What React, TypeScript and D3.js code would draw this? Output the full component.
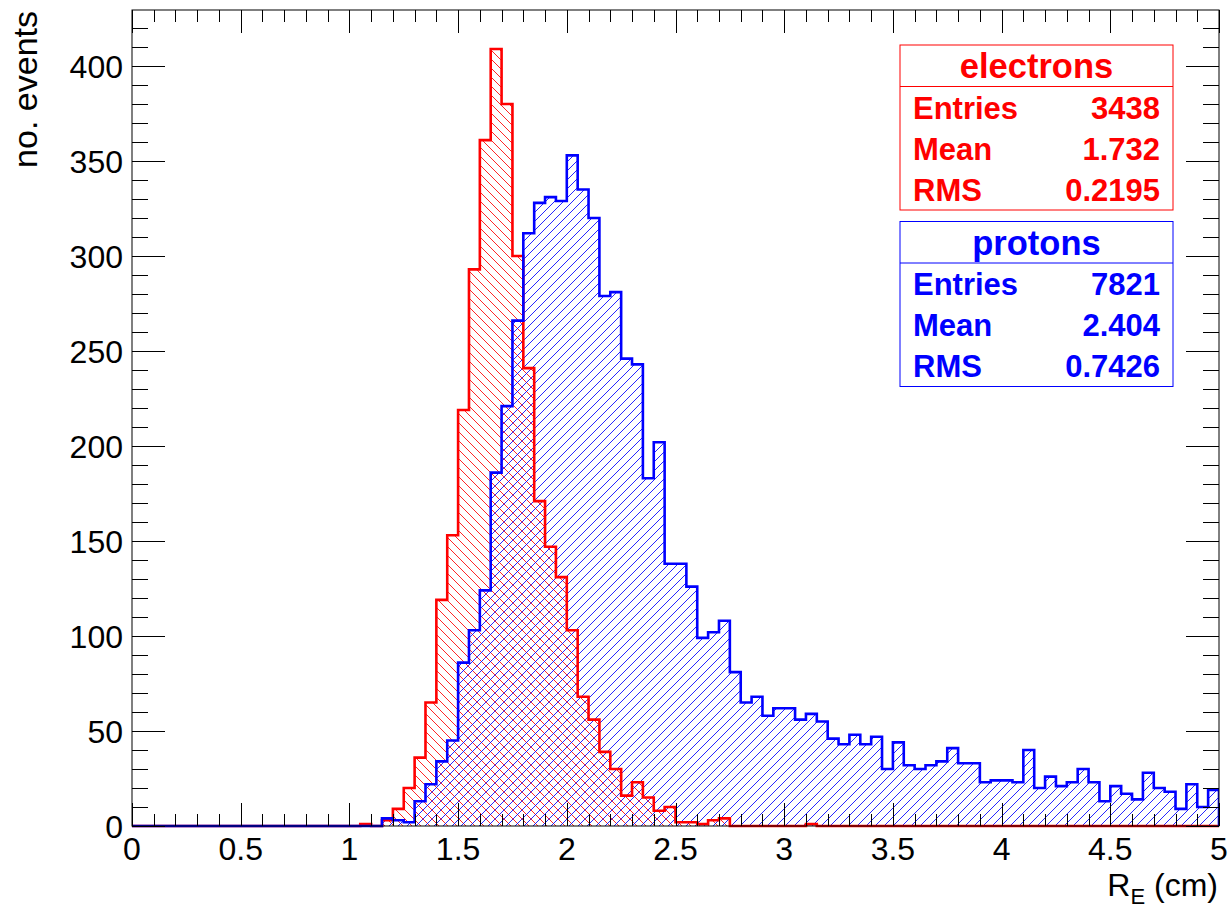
import React from "react";
import * as d3 from "d3";

const BIN_WIDTH = 0.05;
const X_DOMAIN: [number, number] = [0, 5];
const Y_DOMAIN: [number, number] = [0, 429.5];

// electrons histogram, 100 bins of 0.05 cm
const electrons = [
  0, 0, 0, 0, 0, 0, 0, 0, 0, 0,
  0, 0, 0, 0, 0, 0, 0, 0, 0, 0,
  0, 1, 0, 3, 9, 20, 36, 65, 119, 153,
  219, 293, 361, 409, 380, 300, 241, 171, 147, 131,
  103, 68, 56, 39, 30, 16, 23, 15, 8, 10,
  2, 2, 1, 3, 4, 0, 0, 0, 0, 0,
  0, 0, 1, 0, 0, 0, 0, 0, 0, 0,
  0, 0, 0, 0, 0, 0, 0, 0, 0, 0,
  0, 0, 0, 0, 0, 0, 0, 0, 0, 0,
  0, 0, 0, 0, 0, 0, 0, 0, 0, 0,
];

// protons histogram, 100 bins of 0.05 cm
const protons = [
  0, 0, 0, 0, 0, 0, 0, 0, 0, 0,
  0, 0, 0, 0, 0, 0, 0, 0, 0, 0,
  0, 0, 0, 4, 3, 2, 13, 22, 34, 45,
  86, 103, 124, 186, 221, 266, 312, 328, 331, 329,
  353, 335, 320, 279, 281, 246, 243, 183, 202, 138,
  138, 126, 99, 102, 108, 81, 65, 68, 58, 62,
  62, 56, 59, 55, 46, 43, 48, 43, 47, 30,
  44, 32, 30, 32, 34, 41, 33, 33, 23, 24,
  24, 23, 40, 20, 26, 21, 23, 30, 23, 13,
  21, 17, 14, 28, 20, 18, 9, 22, 10, 19,
];

const xMajorTicks = [0, 0.5, 1, 1.5, 2, 2.5, 3, 3.5, 4, 4.5, 5];
const xTickLabels = ["0", "0.5", "1", "1.5", "2", "2.5", "3", "3.5", "4", "4.5", "5"];
const yMajorTicks = [0, 50, 100, 150, 200, 250, 300, 350, 400];
const yTickLabels = ["0", "50", "100", "150", "200", "250", "300", "350", "400"];

const electronStats = [
  ["Entries", "3438"],
  ["Mean", "1.732"],
  ["RMS", "0.2195"],
];
const protonStats = [
  ["Entries", "7821"],
  ["Mean", "2.404"],
  ["RMS", "0.7426"],
];

const RED = "#ff0000";
const BLUE = "#0000ff";
const FONT = "'Liberation Sans', Arial, Helvetica, sans-serif";

const W = 1229;
const H = 910;
const PLOT = { left: 132, right: 1219, top: 10, bottom: 826 };
const HATCH = 9;

export default function App() {
  const x = d3.scaleLinear().domain(X_DOMAIN).range([PLOT.left, PLOT.right]);
  const y = d3.scaleLinear().domain(Y_DOMAIN).range([PLOT.bottom, PLOT.top]);

  const stepPoints = (vals: number[]): [number, number][] => {
    const pts: [number, number][] = [[X_DOMAIN[0], 0]];
    vals.forEach((v, i) => {
      pts.push([i * BIN_WIDTH, v]);
      pts.push([(i + 1) * BIN_WIDTH, v]);
    });
    pts.push([X_DOMAIN[1], 0]);
    return pts;
  };
  const line = d3
    .line<[number, number]>()
    .x((d) => x(d[0]))
    .y((d) => y(d[1]));

  const redPath = line(stepPoints(electrons)) || "";
  const bluePath = line(stepPoints(protons)) || "";

  const xMinor = d3.range(0, 51).map((i) => i * 0.1).filter((v) => v <= 5.0001);
  const yMinor = d3.range(0, 43).map((i) => i * 10).filter((v) => v <= Y_DOMAIN[1]);

  const statBox = (title: string, rows: string[][], color: string, top: number) => {
    const left = 900;
    const width = 273;
    const height = 165;
    return (
      <g>
        <rect x={left} y={top} width={width} height={height} fill="white" stroke={color} strokeWidth={1} />
        <line x1={left} x2={left + width} y1={top + 41.5} y2={top + 41.5} stroke={color} strokeWidth={1} />
        <text
          x={left + width / 2}
          y={top + 33}
          textAnchor="middle"
          fontFamily={FONT}
          fontWeight="bold"
          fontSize={34.5}
          fill={color}
        >
          {title}
        </text>
        {rows.map((r, i) => (
          <g key={r[0]}>
            <text x={left + 13} y={top + 73.5 + i * 41} fontFamily={FONT} fontWeight="bold" fontSize={31} fill={color}>
              {r[0]}
            </text>
            <text
              x={left + 260}
              y={top + 73.5 + i * 41}
              textAnchor="end"
              fontFamily={FONT}
              fontWeight="bold"
              fontSize={31}
              fill={color}
            >
              {r[1]}
            </text>
          </g>
        ))}
      </g>
    );
  };

  const h = HATCH;
  return (
    <svg
      width={W}
      height={H}
      style={{ position: "absolute", left: 0, top: 0, background: "white" }}
      xmlns="http://www.w3.org/2000/svg"
    >
      <defs>
        <pattern id="hatchRed" patternUnits="userSpaceOnUse" width={h} height={h}>
          <path
            d={`M0,0 L${h},${h} M-1,${h - 1} L1,${h + 1} M${h - 1},-1 L${h + 1},1`}
            stroke={RED}
            strokeWidth={1}
            strokeOpacity={0.85}
          />
        </pattern>
        <pattern id="hatchBlue" patternUnits="userSpaceOnUse" width={h} height={h}>
          <path
            d={`M0,${h} L${h},0 M-1,1 L1,-1 M${h - 1},${h + 1} L${h + 1},${h - 1}`}
            stroke={BLUE}
            strokeWidth={1}
            strokeOpacity={0.85}
          />
        </pattern>
        <clipPath id="plotClip">
          <rect x={PLOT.left} y={PLOT.top} width={PLOT.right - PLOT.left} height={PLOT.bottom - PLOT.top + 2} />
        </clipPath>
      </defs>
      <rect x={0} y={0} width={W} height={H} fill="white" />

      <g clipPath="url(#plotClip)">
        <path d={redPath + "Z"} fill="url(#hatchRed)" stroke="none" />
        <path d={bluePath + "Z"} fill="url(#hatchBlue)" stroke="none" />
        <path d={redPath} fill="none" stroke={RED} strokeWidth={2.6} strokeLinejoin="miter" />
        <path d={bluePath} fill="none" stroke={BLUE} strokeWidth={2.6} strokeLinejoin="miter" />
      </g>

      {/* frame */}
      <rect
        x={PLOT.left}
        y={PLOT.top}
        width={PLOT.right - PLOT.left}
        height={PLOT.bottom - PLOT.top}
        fill="none"
        stroke="black"
        strokeWidth={1}
      />

      {/* x ticks bottom & top */}
      {xMinor.map((v, i) => {
        const major = i % 5 === 0;
        const len = major ? 23 : 12;
        const px = Math.round(x(v)) + 0.5;
        return (
          <g key={"xt" + i}>
            <line x1={px} x2={px} y1={PLOT.bottom} y2={PLOT.bottom - len} stroke="black" strokeWidth={1} />
            <line x1={px} x2={px} y1={PLOT.top} y2={PLOT.top + len} stroke="black" strokeWidth={1} />
          </g>
        );
      })}
      {/* y ticks left & right */}
      {yMinor.map((v, i) => {
        const major = i % 5 === 0;
        const len = major ? 33 : 16;
        const py = Math.round(y(v)) + 0.5;
        return (
          <g key={"yt" + i}>
            <line x1={PLOT.left} x2={PLOT.left + len} y1={py} y2={py} stroke="black" strokeWidth={1} />
            <line x1={PLOT.right} x2={PLOT.right - len} y1={py} y2={py} stroke="black" strokeWidth={1} />
          </g>
        );
      })}

      {/* x tick labels */}
      {xMajorTicks.map((v, i) => (
        <text key={"xl" + i} x={x(v)} y={860} textAnchor="middle" fontFamily={FONT} fontSize={32} fill="black">
          {xTickLabels[i]}
        </text>
      ))}
      {/* y tick labels */}
      {yMajorTicks.map((v, i) => (
        <text key={"yl" + i} x={123} y={y(v) + 11.5} textAnchor="end" fontFamily={FONT} fontSize={32} fill="black">
          {yTickLabels[i]}
        </text>
      ))}

      {/* axis titles */}
      <text x={1218} y={896} textAnchor="end" fontFamily={FONT} fontSize={32} fill="black">
        R<tspan fontSize={22} dy={8}>E</tspan>
        <tspan dy={-8}> (cm)</tspan>
      </text>
      <text
        transform={`translate(37,11) rotate(-90)`}
        textAnchor="end"
        fontFamily={FONT}
        fontSize={34}
        fill="black"
      >
        no. events
      </text>

      {statBox("electrons", electronStats, RED, 45)}
      {statBox("protons", protonStats, BLUE, 221.5)}
    </svg>
  );
}
